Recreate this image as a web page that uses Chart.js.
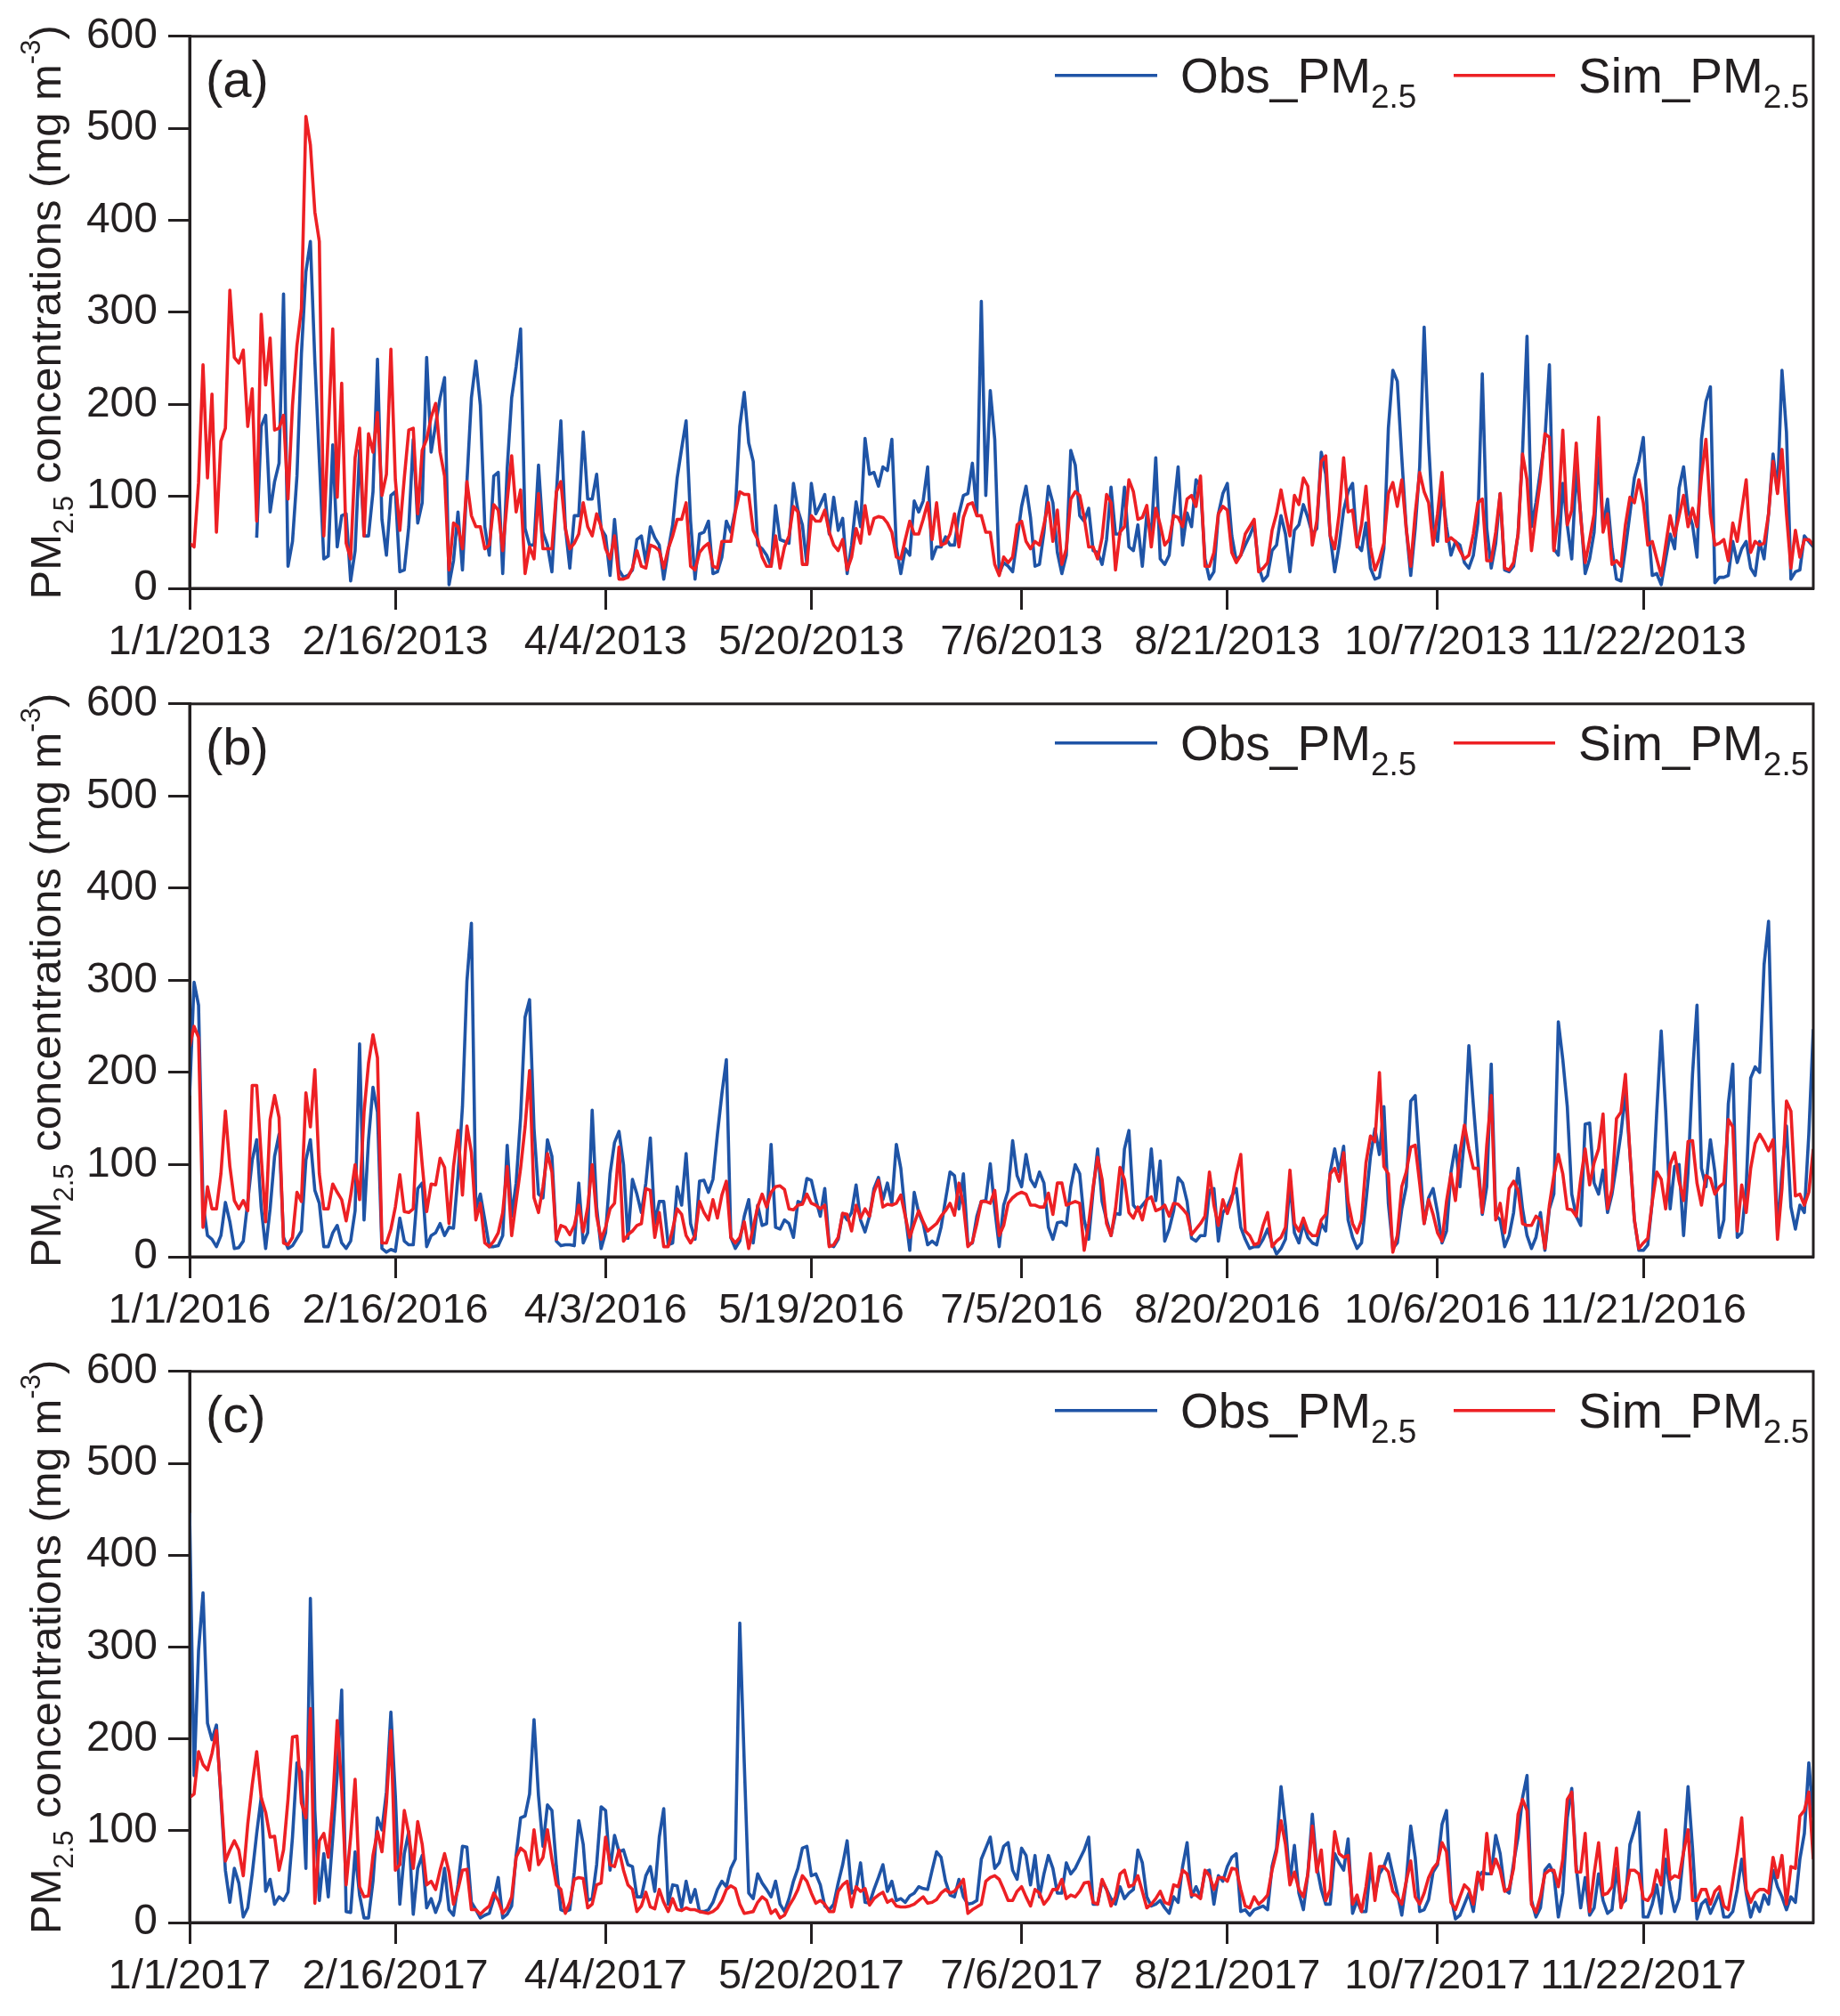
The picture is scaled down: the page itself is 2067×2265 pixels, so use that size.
<!DOCTYPE html>
<html>
<head>
<meta charset="utf-8">
<script src="https://cdn.jsdelivr.net/npm/chart.js@4.4.1/dist/chart.umd.min.js"></script>
<style>
  html, body { margin: 0; padding: 0; background: #fff; }
  #page { position: relative; width: 2067px; height: 2265px; }
  canvas { position: absolute; left: 0; }
</style>
</head>
<body>
<div id="page">
  <canvas id="panelA" width="2067" height="750" style="top:0px"></canvas>
  <canvas id="panelB" width="2067" height="750" style="top:750px"></canvas>
  <canvas id="panelC" width="2067" height="765" style="top:1500px"></canvas>
</div>
<script>
// day-of-year positions of the date ticks (same in all three years)
var tickDays = [0, 46, 93, 139, 186, 232, 279, 325];
var ticks2013 = ['1/1/2013', '2/16/2013', '4/4/2013', '5/20/2013', '7/6/2013', '8/21/2013', '10/7/2013', '11/22/2013'];
var ticks2016 = ['1/1/2016', '2/16/2016', '4/3/2016', '5/19/2016', '7/5/2016', '8/20/2016', '10/6/2016', '11/21/2016'];
var ticks2017 = ['1/1/2017', '2/16/2017', '4/4/2017', '5/20/2017', '7/6/2017', '8/21/2017', '10/7/2017', '11/22/2017'];

// daily PM2.5 (index = day of year)
var obs2013 = [null,null,null,null,null,null,null,null,null,null,null,null,null,null,null,
  55,176,188,83,116,136,320,24,51,122,255,344,377,247,140,32,35,156,45,79,
  81,8,41,150,57,57,105,249,75,36,101,105,18,20,67,162,71,93,251,148,
  178,207,229,4,30,83,20,116,207,247,199,67,36,122,126,16,130,207,241,282,
  65,47,47,134,61,47,18,103,182,67,22,79,79,170,97,97,124,65,57,14,
  75,20,12,14,20,53,57,28,67,55,47,10,41,69,120,152,182,73,10,59,61,73,
  16,18,34,73,61,85,176,213,158,138,47,43,36,24,90,53,51,49,114,85,
  69,26,114,81,91,102,59,99,63,76,16,47,94,67,163,124,126,111,132,128,
  162,45,16,43,36,95,83,95,132,32,45,45,56,47,47,81,101,103,136,81,
  312,101,215,162,16,28,24,18,53,89,111,77,24,26,61,111,93,39,16,36,
  150,134,79,73,87,41,39,26,53,110,59,59,110,45,41,69,24,81,57,142,
  32,26,36,85,132,47,82,67,118,111,32,10,18,81,103,114,57,30,36,47,57,69,24,
  8,14,41,47,79,59,18,63,69,91,77,59,65,148,124,57,18,47,85,105,
  114,47,41,71,22,10,12,43,174,237,225,142,65,14,65,132,284,158,69,51,
  107,67,36,51,47,28,22,36,71,233,65,22,49,103,20,18,24,59,148,274,
  67,93,128,162,243,43,36,114,69,32,128,81,16,32,61,142,65,97,43,10,
  8,43,81,120,138,164,73,14,16,4,32,59,43,109,132,85,69,34,162,203,
  219,6,12,12,14,51,28,43,51,22,14,51,32,81,146,105,237,170,10,18,20,57,51,45];

var sim2013 = [49,45,115,243,120,211,61,160,174,324,251,245,259,176,217,73,298,221,272,172,
  174,188,97,199,264,304,513,482,409,377,57,170,282,99,223,49,32,142,174,57,
  168,148,191,101,124,260,118,63,120,172,174,81,150,162,186,201,148,122,20,71,
  67,43,116,79,67,67,43,47,91,85,41,95,144,83,107,16,45,32,103,43,
  43,43,105,116,65,43,49,59,93,67,57,81,67,43,32,57,10,10,12,22,
  41,24,22,47,45,41,22,43,57,75,75,93,24,20,39,45,49,
  24,22,51,51,51,83,105,102,102,63,53,34,24,24,57,22,45,57,89,83,
  26,26,79,73,73,85,61,47,41,53,20,34,65,49,90,59,76,78,77,71,
  61,34,32,53,73,59,59,75,93,53,93,47,49,59,81,45,77,91,93,79,
  79,61,61,26,14,34,28,34,69,73,51,43,51,47,69,93,51,85,26,43,
  97,105,101,77,45,45,32,55,102,93,20,61,67,118,105,75,77,90,45,87,
  69,47,53,79,77,67,97,101,89,122,24,24,39,81,89,85,39,28,36,59,67,75,18,
  22,28,63,81,107,81,57,101,91,120,111,47,73,138,144,57,43,81,142,83,
  85,45,69,111,45,20,32,49,103,115,89,118,65,24,81,126,105,93,47,81,
  126,51,55,51,41,32,36,59,93,97,30,30,61,103,22,20,28,59,146,118,
  41,81,118,168,164,41,81,172,69,85,158,77,28,53,81,186,61,81,26,30,
  24,69,99,93,118,93,47,51,32,14,47,79,57,79,101,67,87,67,122,162,
  81,47,49,53,30,71,51,85,118,39,51,47,49,81,138,103,151,81,22,63,34,53,53,47];

var obs2016 = [175,298,273,58,23,19,11,23,59,38,9,10,17,60,105,127,54,9,52,109,
  133,21,9,12,20,28,105,127,72,58,11,11,26,34,15,9,17,50,231,40,
  127,184,157,9,5,8,6,42,17,13,13,74,80,11,23,26,36,23,32,31,
  88,163,299,362,52,68,40,11,11,12,23,121,44,80,151,260,279,139,68,64,
  127,109,17,12,13,13,12,80,15,26,159,54,9,26,90,124,136,100,20,84,
  68,48,80,129,36,60,60,13,15,76,56,112,36,19,82,83,70,84,133,177,214,
  21,9,17,44,62,15,56,34,36,122,32,30,40,36,21,60,58,85,83,62,
  44,74,13,11,19,47,40,48,78,40,27,44,74,86,62,80,58,122,96,46,
  7,70,48,36,13,17,13,32,62,92,88,52,90,13,15,44,60,61,101,52,
  11,56,72,126,88,76,111,84,76,92,80,32,19,37,38,34,76,100,90,40,
  19,72,117,60,40,23,47,46,117,137,56,50,56,62,117,61,104,17,30,50,
  86,80,60,20,17,23,23,72,74,17,48,54,66,74,32,19,9,11,11,
  19,30,15,3,9,19,80,26,15,36,21,15,13,36,28,92,117,92,120,40,
  21,9,15,60,109,139,111,163,58,9,15,52,76,169,175,105,36,64,74,48,
  15,28,92,121,76,128,229,165,105,46,76,209,45,40,11,23,48,96,52,23,
  9,21,48,7,52,68,255,214,163,68,44,34,144,145,80,68,94,48,68,100,
  134,178,113,40,7,7,13,60,157,245,158,52,98,100,23,92,198,273,96,76,
  127,92,21,40,166,209,21,26,76,194,206,200,317,364,170,26,92,142,54,30,
  56,48,133,247];

var sim2016 = [228,250,238,32,76,52,52,90,158,98,61,52,61,50,186,186,109,38,149,175,
  151,15,13,21,70,60,178,141,203,90,52,52,79,70,62,39,66,100,62,157,
  210,241,216,15,15,30,54,89,49,48,52,156,100,49,79,78,107,97,36,98,
  137,67,142,113,40,58,15,11,17,26,48,98,23,60,96,141,202,64,48,76,
  112,92,19,34,32,24,34,56,27,54,100,44,19,32,52,58,119,17,24,28,
  34,36,74,72,21,48,11,11,30,52,46,23,15,23,60,48,40,62,42,67,82,
  21,15,21,38,9,32,54,68,54,70,76,77,73,52,51,56,57,68,58,
  56,52,56,11,13,21,47,46,28,56,42,52,44,70,83,54,57,56,58,67,
  44,21,36,50,38,28,32,36,44,50,58,45,80,56,11,16,36,60,60,58,
  72,23,34,58,64,68,70,68,56,56,54,54,69,46,80,80,56,58,60,58,
  7,36,76,108,84,36,23,52,97,84,48,42,54,40,62,65,50,52,56,44,
  58,57,52,46,24,30,36,44,92,56,34,62,47,62,90,111,28,23,13,15,
  34,48,11,17,21,32,94,36,28,42,28,23,23,40,46,90,96,82,113,60,
  36,26,40,102,131,125,200,98,90,5,23,76,92,119,121,80,36,62,46,26,
  17,60,90,61,113,143,117,96,96,48,121,175,40,58,26,74,82,72,36,34,
  34,44,40,9,56,88,111,90,52,51,44,84,117,78,102,117,155,52,74,150,
  157,198,113,40,9,15,20,60,92,84,52,100,113,82,61,125,126,80,56,88,
  85,68,76,80,149,141,28,78,48,96,123,133,125,115,127,19,74,169,158,66,
  68,56,70,117,119];

var obs2017 = [446,160,296,359,217,199,215,136,57,22,59,43,6,16,53,97,136,34,47,20,
  28,24,33,93,174,164,59,353,122,24,75,28,93,162,253,12,11,77,30,5,
  5,45,114,101,142,229,138,20,75,99,9,59,73,16,26,11,24,59,14,8,
  41,83,82,22,14,5,8,10,26,49,5,9,18,73,114,116,140,221,138,83,
  128,122,61,14,12,14,55,111,85,24,26,63,126,122,57,95,77,79,63,61,
  28,28,51,61,34,93,124,20,41,40,16,45,22,36,12,12,14,22,36,45,39,
  59,69,326,174,32,26,53,43,36,28,45,20,12,26,45,59,81,83,51,53,
  41,18,14,20,43,63,89,32,36,65,22,21,36,49,63,34,45,24,26,22,
  29,32,39,37,36,57,77,71,45,30,28,47,28,20,21,24,69,81,93,59,
  65,83,87,57,47,81,73,41,73,28,53,73,59,32,32,65,53,59,69,79,
  93,20,20,45,36,26,20,39,26,32,36,79,65,28,18,20,24,16,10,28,
  22,61,87,28,39,28,55,57,20,51,45,61,71,75,12,14,8,14,16,18,
  14,61,81,148,105,45,84,32,14,53,118,61,36,20,20,75,65,57,91,10,
  24,12,12,61,30,53,61,75,53,32,8,45,105,71,12,14,25,55,63,107,
  122,28,4,8,20,32,12,49,55,53,53,95,75,36,32,65,93,136,160,24,
  6,16,57,63,53,6,32,114,146,61,16,49,8,16,53,24,10,14,59,20,
  24,85,101,120,6,6,20,41,10,69,36,12,26,77,148,81,4,20,25,10,
  21,32,6,6,12,36,69,32,6,22,12,30,20,57,39,28,14,28,22,69,97,174,114,45];

var sim2017 = [136,140,186,172,166,184,209,140,67,79,89,79,51,107,150,186,136,120,93,94,
  57,79,134,202,203,130,114,233,21,89,97,71,130,220,146,41,93,156,39,28,
  29,73,99,77,130,209,57,63,122,97,59,110,85,41,45,36,57,75,55,20,
  36,57,58,14,14,9,14,18,32,24,10,16,28,71,81,77,57,101,63,71,
  101,69,41,36,10,22,47,49,48,16,20,41,43,93,63,61,79,57,41,36,
  12,18,33,17,15,36,22,12,26,14,13,16,14,14,12,11,10,12,16,24,36,
  40,37,20,10,11,12,22,28,24,10,14,5,8,18,26,36,51,45,32,21,
  24,20,12,12,34,41,45,17,39,34,37,19,26,30,33,22,25,18,17,17,
  18,20,24,28,21,22,25,32,36,32,34,40,47,10,14,17,20,45,49,51,
  47,36,24,24,34,39,28,18,36,32,20,26,36,36,47,26,30,28,34,43,
  44,22,20,47,36,18,28,53,57,39,41,51,34,16,20,26,34,22,20,41,
  39,57,53,30,30,26,57,51,36,49,49,45,59,58,36,18,16,28,20,24,
  30,57,77,111,85,41,55,36,28,53,105,55,79,24,36,99,75,71,73,20,
  30,12,39,75,24,61,61,55,34,28,20,45,67,28,20,32,49,59,65,87,
  77,22,14,28,41,36,20,55,36,97,53,69,57,34,37,59,118,134,122,20,
  11,28,53,57,57,39,69,134,142,55,55,97,12,53,87,30,32,39,81,16,
  32,57,57,53,26,24,32,57,41,101,47,51,49,77,101,24,24,36,36,20,
  34,39,18,14,45,77,114,36,22,32,36,36,32,71,49,73,20,61,59,116,122,142,69,57];

var FONT = '"Liberation Sans", Arial, Helvetica, sans-serif';
var ink = '#231f20';
var blue = '#1f54a6';
var red = '#ed2024';

Chart.defaults.font.family = FONT;
Chart.defaults.color = ink;

// draws text pieces in a row, each with its own size and baseline shift
function drawPieces(ctx, pieces, x, y) {
  var w = 0;
  pieces.forEach(function (p) {
    ctx.font = p[1] + 'px ' + FONT;
    ctx.fillText(p[0], x + w, y + p[2]);
    w += ctx.measureText(p[0]).width;
  });
  return w;
}
function piecesWidth(ctx, pieces) {
  var w = 0;
  pieces.forEach(function (p) {
    ctx.font = p[1] + 'px ' + FONT;
    w += ctx.measureText(p[0]).width;
  });
  return w;
}

var decor = {
  id: 'decor',
  afterDraw: function (chart, args, opts) {
    var ctx = chart.ctx, a = chart.chartArea;
    ctx.save();
    // frame
    ctx.strokeStyle = ink;
    ctx.lineWidth = 3;
    ctx.strokeRect(a.left, a.top, a.right - a.left, a.bottom - a.top);

    ctx.fillStyle = ink;
    ctx.textAlign = 'left';
    ctx.textBaseline = 'alphabetic';

    // panel tag
    ctx.font = '58px ' + FONT;
    ctx.fillText(opts.tag, a.left + 18, a.top + 68);

    // legend
    var ly = a.top + 44, ty = a.top + 63;
    ctx.lineWidth = 3.6;
    ctx.strokeStyle = blue;
    ctx.beginPath(); ctx.moveTo(a.right - 852, ly); ctx.lineTo(a.right - 737, ly); ctx.stroke();
    ctx.strokeStyle = red;
    ctx.beginPath(); ctx.moveTo(a.right - 404, ly); ctx.lineTo(a.right - 290, ly); ctx.stroke();
    drawPieces(ctx, [['Obs_PM', 55, 0], ['2.5', 37, 17]], a.right - 711, ty);
    drawPieces(ctx, [['Sim_PM', 55, 0], ['2.5', 37, 17]], a.right - 264, ty);

    // y axis title, rotated
    var title = [['PM', 49, 0], ['2.5', 31, 14], [' concentrations (mg m', 49, 0], ['-3', 31, -23], [')', 49, 0]];
    ctx.translate(68, (a.top + a.bottom) / 2);
    ctx.rotate(-Math.PI / 2);
    drawPieces(ctx, title, -piecesWidth(ctx, title) / 2, 0);
    ctx.restore();
  }
};

function makePanel(id, obs, sim, tickLabels, tag, top, bottom) {
  var canvas = document.getElementById(id);
  var height = canvas.height;
  return new Chart(canvas, {
    type: 'line',
    data: {
      datasets: [
        {
          label: 'Obs_PM2.5',
          data: obs.map(function (v, i) { return { x: i, y: v }; }),
          borderColor: blue,
          borderWidth: 3.6,
          order: 2
        },
        {
          label: 'Sim_PM2.5',
          data: sim.map(function (v, i) { return { x: i, y: v }; }),
          borderColor: red,
          borderWidth: 3.6,
          order: 1
        }
      ]
    },
    options: {
      responsive: false,
      animation: false,
      devicePixelRatio: 1,
      spanGaps: false,
      layout: { padding: { top: top, right: 30, left: 0, bottom: 0 } },
      elements: {
        point: { radius: 0, hoverRadius: 0 },
        line: { tension: 0, borderJoinStyle: 'round', fill: false }
      },
      plugins: {
        legend: { display: false },
        tooltip: { enabled: false },
        decor: { tag: tag }
      },
      scales: {
        x: {
          type: 'linear',
          min: 0,
          max: 363,
          afterBuildTicks: function (axis) {
            axis.ticks = tickDays.map(function (d) { return { value: d }; });
          },
          afterFit: function (axis) { axis.height = height - bottom; },
          ticks: {
            autoSkip: false,
            maxRotation: 0,
            minRotation: 0,
            padding: 9,
            color: ink,
            font: { size: 47 },
            callback: function (value, index) { return tickLabels[index]; }
          },
          grid: { drawOnChartArea: false, drawTicks: true, tickLength: 24, tickWidth: 3, color: ink },
          border: { display: true, width: 3, color: ink }
        },
        y: {
          min: 0,
          max: 600,
          afterFit: function (axis) { axis.width = 213; },
          ticks: {
            stepSize: 50,
            padding: 12,
            color: ink,
            font: { size: 48 },
            callback: function (value) { return value % 100 === 0 ? value : ''; }
          },
          grid: { drawOnChartArea: false, drawTicks: true, tickLength: 24, tickWidth: 3, color: ink },
          border: { display: true, width: 3, color: ink }
        }
      }
    },
    plugins: [decor]
  });
}

makePanel('panelA', obs2013, sim2013, ticks2013, '(a)', 39, 661);
makePanel('panelB', obs2016, sim2016, ticks2016, '(b)', 37, 662);
makePanel('panelC', obs2017, sim2017, ticks2017, '(c)', 39, 660);
</script>
</body>
</html>
